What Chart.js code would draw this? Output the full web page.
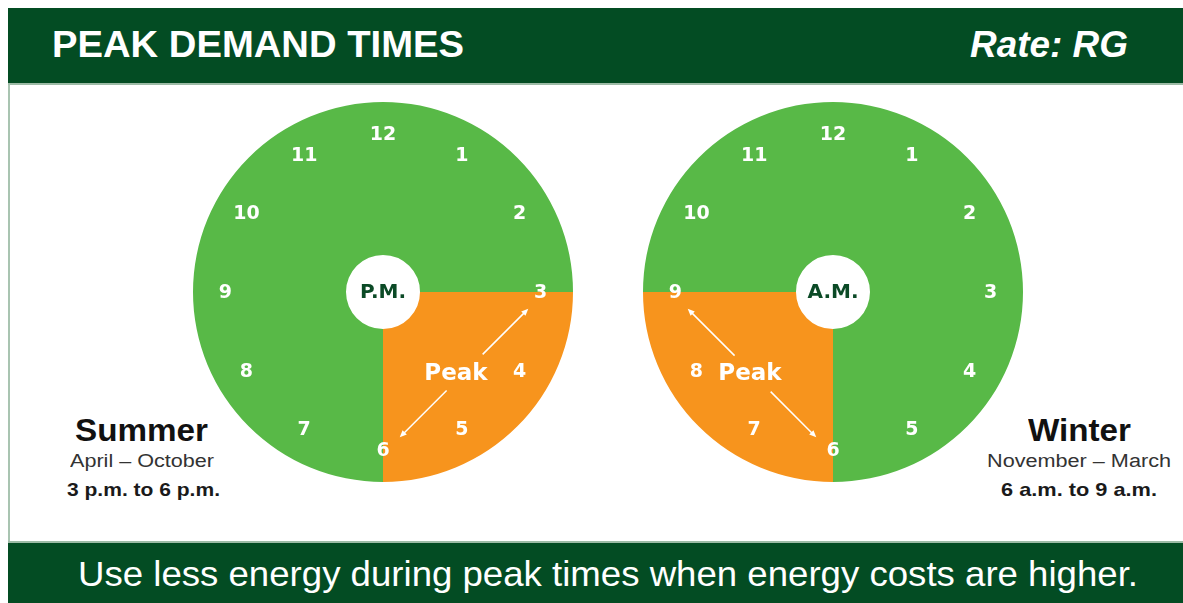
<!DOCTYPE html>
<html>
<head>
<meta charset="utf-8">
<script src="https://cdn.jsdelivr.net/npm/chart.js@4.4.1/dist/chart.umd.min.js"></script>
<style>
body { margin:0; width:1183px; height:603px; overflow:hidden; position:relative; background:#fff; font-family:"Liberation Sans", Arial, sans-serif; }
#top { position:absolute; left:8px; top:8px; width:1175px; height:75px; background:#034c23; border-bottom:2px solid #9dbba6; }
#bottom { position:absolute; left:8px; top:541px; width:1175px; height:62px; background:#034c23; border-top:2px solid #9dbba6; }
#edge { position:absolute; left:8px; top:85px; width:2px; height:456px; background:#a9c4b1; }
.txt { position:absolute; white-space:nowrap; line-height:1; transform-origin:0 0; }
.wrap { position:absolute; width:380px; height:380px; }
</style>
</head>
<body>
<div id="top"></div>
<div id="bottom"></div>
<div id="edge"></div>

<div class="txt" data-x="52" data-w="412" style="top:27px;font-size:36px;font-weight:bold;color:#fff">PEAK DEMAND TIMES</div>
<div class="txt" data-x="970" data-w="158" style="top:27px;font-size:36px;font-weight:bold;font-style:italic;color:#fff">Rate: RG</div>

<div class="txt" data-x="75" data-w="133" style="top:415px;font-size:31px;font-weight:bold;color:#111">Summer</div>
<div class="txt" data-x="70" data-w="144" style="top:452px;font-size:18px;color:#333">April – October</div>
<div class="txt" data-x="67" data-w="153" style="top:480px;font-size:19px;font-weight:bold;color:#1a1a1a">3 p.m. to 6 p.m.</div>

<div class="txt" data-x="1028" data-w="103" style="top:415px;font-size:31px;font-weight:bold;color:#111">Winter</div>
<div class="txt" data-x="987" data-w="184" style="top:452px;font-size:18px;color:#333">November – March</div>
<div class="txt" data-x="1001" data-w="156" style="top:480px;font-size:19px;font-weight:bold;color:#1a1a1a">6 a.m. to 9 a.m.</div>

<div class="txt" data-x="78" data-w="1060" style="top:556px;font-size:35px;color:#fff">Use less energy during peak times when energy costs are higher.</div>

<div class="wrap" style="left:193px;top:102px"><canvas id="summer" width="380" height="380"></canvas></div>
<div class="wrap" style="left:643px;top:102px"><canvas id="winter" width="380" height="380"></canvas></div>

<script>
// clock data: hours per segment, starting at 12 o'clock, clockwise
const hourLabels = ['12', '1', '2', '3', '4', '5', '6', '7', '8', '9', '10', '11'];
const summerSegments = ['12–3 p.m.', '3–6 p.m.', '6–12 p.m.'];
const summerHours = [3, 3, 6];
const winterSegments = ['12–6 a.m.', '6–9 a.m.', '9–12 a.m.'];
const winterHours = [6, 3, 3];
const peakIndex = 1;

const green = '#58b947';
const orange = '#f7941d';

// stretch text boxes to the widths of the original
document.querySelectorAll('.txt').forEach(el => {
    const w = el.getBoundingClientRect().width;
    el.style.left = el.dataset.x + 'px';
    el.style.transform = `scaleX(${el.dataset.w / w})`;
});

const clockFace = {
    id: 'clockFace',
    afterDatasetsDraw(chart, args, opts) {
        const arc = chart.getDatasetMeta(0).data[0];
        const cx = arc.x, cy = arc.y, R = arc.outerRadius;
        const ctx = chart.ctx;
        const pos = (h, r) => {
            const a = -Math.PI / 2 + h * Math.PI / 6;
            return [cx + r * Math.cos(a), cy + r * Math.sin(a)];
        };
        ctx.save();
        ctx.textAlign = 'center';
        ctx.textBaseline = 'middle';

        // hour numbers
        ctx.fillStyle = '#fff';
        ctx.font = 'bold 19px "DejaVu Sans"';
        hourLabels.forEach((t, i) => {
            const [x, y] = pos(i, R * 0.83);
            ctx.fillText(t, x, y + 1);
        });

        // A.M. / P.M.
        ctx.fillStyle = '#0b4a26';
        ctx.font = 'bold 20px "DejaVu Sans"';
        ctx.fillText(opts.center, cx, cy + 1);

        // peak arrow
        const hrs = chart.data.datasets[0].data;
        const start = hrs.slice(0, peakIndex).reduce((a, b) => a + b, 0);
        const end = start + hrs[peakIndex];
        const [x1, y1] = pos(start + 0.25, R * 0.76);
        const [x2, y2] = pos(end - 0.25, R * 0.76);
        const dx = x2 - x1, dy = y2 - y1;
        const len = Math.hypot(dx, dy), ux = dx / len, uy = dy / len;
        ctx.strokeStyle = '#fff';
        ctx.fillStyle = '#fff';
        ctx.lineWidth = 1.5;
        ctx.beginPath();
        ctx.moveTo(x1, y1); ctx.lineTo(x1 + dx * 0.35, y1 + dy * 0.35);
        ctx.moveTo(x1 + dx * 0.64, y1 + dy * 0.64); ctx.lineTo(x2, y2);
        ctx.stroke();
        const head = (x, y, dirx, diry) => {
            ctx.beginPath();
            ctx.moveTo(x + dirx * 3, y + diry * 3);
            ctx.lineTo(x - dirx * 4 - diry * 3, y - diry * 4 + dirx * 3);
            ctx.lineTo(x - dirx * 4 + diry * 3, y - diry * 4 - dirx * 3);
            ctx.closePath();
            ctx.fill();
        };
        head(x2, y2, ux, uy);
        head(x1, y1, -ux, -uy);

        ctx.font = 'bold 23px "DejaVu Sans"';
        ctx.fillText('Peak', x1 + dx * 0.5 - opts.peakShift, y1 + dy * 0.5 + 1);
        ctx.restore();
    }
};

function makeClock(id, labels, hours, center, peakShift) {
    return new Chart(document.getElementById(id), {
        type: 'doughnut',
        data: {
            labels: labels,
            datasets: [{
                data: hours,
                backgroundColor: hours.map((_, i) => i === peakIndex ? orange : green),
                borderWidth: 0
            }]
        },
        options: {
            responsive: false,
            animation: false,
            cutout: 37,
            layout: { padding: 0 },
            plugins: {
                legend: { display: false },
                tooltip: { enabled: false },
                clockFace: { center: center, peakShift: peakShift }
            }
        },
        plugins: [clockFace]
    });
}

makeClock('summer', summerSegments, summerHours, 'P.M.', 8);
makeClock('winter', winterSegments, winterHours, 'A.M.', 2);
</script>
</body>
</html>
